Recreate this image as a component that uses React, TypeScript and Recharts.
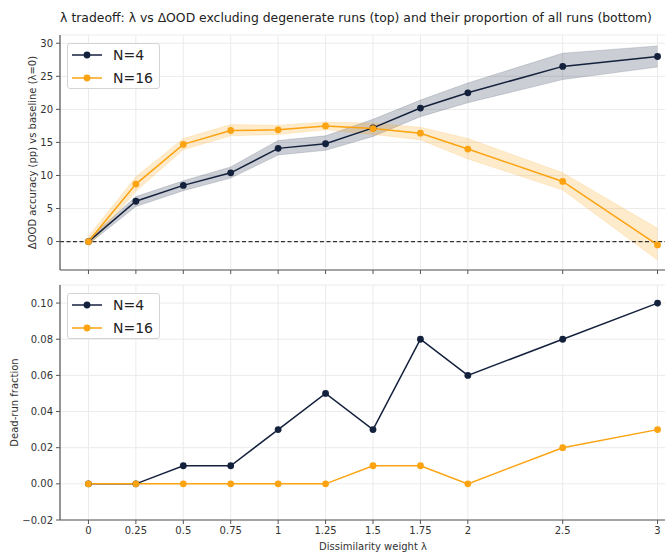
import React from 'react';
import { ComposedChart, Line, Area, XAxis, YAxis, CartesianGrid, ReferenceLine } from 'recharts';

// lambda values (x) and tick labels
const LAMBDAS = [0, 0.25, 0.5, 0.75, 1, 1.25, 1.5, 1.75, 2, 2.5, 3];
const X_TICKS = [0, 0.25, 0.5, 0.75, 1, 1.25, 1.5, 1.75, 2, 2.5, 3];

// top panel: ΔOOD accuracy (pp), mean and band edges
const OOD_N4 = [0, 6.1, 8.5, 10.4, 14.1, 14.8, 17.2, 20.2, 22.5, 26.5, 28.0];
const OOD_N4_LO = [-0.4, 5.3, 7.7, 9.6, 13.1, 13.8, 15.9, 18.9, 21.0, 24.5, 26.4];
const OOD_N4_HI = [0.4, 6.8, 9.2, 11.3, 15.3, 16.0, 18.5, 21.4, 24.0, 28.5, 29.6];
const OOD_N16 = [0, 8.7, 14.7, 16.8, 16.9, 17.5, 17.1, 16.4, 14.0, 9.1, -0.5];
const OOD_N16_LO = [-0.8, 7.6, 13.9, 16.0, 16.2, 16.9, 16.2, 15.4, 12.5, 7.8, -2.8];
const OOD_N16_HI = [0.8, 9.8, 15.6, 17.7, 17.6, 18.1, 17.9, 17.3, 15.6, 10.4, 2.0];
const OOD_TICKS = [0, 5, 10, 15, 20, 25, 30];

// bottom panel: dead-run fraction
const DEAD_N4 = [0, 0, 0.01, 0.01, 0.03, 0.05, 0.03, 0.08, 0.06, 0.08, 0.10];
const DEAD_N16 = [0, 0, 0, 0, 0, 0, 0.01, 0.01, 0, 0.02, 0.03];
const DEAD_TICKS = [-0.02, 0, 0.02, 0.04, 0.06, 0.08, 0.1];

const NAVY = '#14213d';
const ORANGE = '#fca311';
const SPINE = '#555';
const GRID = '#ebebeb';
const FONT = '"DejaVu Sans", sans-serif';

const topData = LAMBDAS.map((lam, i) => ({
  lam,
  n4: OOD_N4[i],
  n4Band: [OOD_N4_LO[i], OOD_N4_HI[i]],
  n16: OOD_N16[i],
  n16Band: [OOD_N16_LO[i], OOD_N16_HI[i]],
}));

const bottomData = LAMBDAS.map((lam, i) => ({ lam, n4: DEAD_N4[i], n16: DEAD_N16[i] }));

const fmtDead = (v: number) => (v < 0 ? '\u2212' + Math.abs(v).toFixed(2) : v.toFixed(2));

const LegendBox = ({ left, top }: { left: number; top: number }) => (
  <div
    style={{
      position: 'absolute',
      left,
      top,
      width: 91,
      height: 44,
      border: '1px solid #d4d4d4',
      borderRadius: 3,
      background: 'rgba(255,255,255,0.85)',
      fontFamily: FONT,
      fontSize: 14,
      color: '#222',
    }}
  >
    {[
      { name: 'N=4', color: NAVY },
      { name: 'N=16', color: ORANGE },
    ].map((s, i) => (
      <div key={s.name} style={{ position: 'absolute', left: 4, top: 0.5 + i * 23.4, height: 20, display: 'flex', alignItems: 'center' }}>
        <svg width={30} height={20}>
          <line x1={0} y1={10} x2={30} y2={10} stroke={s.color} strokeWidth={1.5} />
          <circle cx={15} cy={10} r={3.4} fill={s.color} />
        </svg>
        <span style={{ marginLeft: 11, lineHeight: '20px' }}>{s.name}</span>
      </div>
    ))}
  </div>
);

const axisTick = { fontSize: 10, fill: '#333', fontFamily: FONT };
const X_DOMAIN = [-0.15, 3.15];

export default function App() {
  return (
    <div style={{ position: 'absolute', left: 0, top: 0, width: 665, height: 552, overflow: 'hidden', background: '#fff', fontFamily: FONT }}>
      <div style={{ position: 'absolute', left: 0, top: 10, width: 712, textAlign: 'center', fontSize: 12.4, color: '#222' }}>
        λ tradeoff: λ vs ΔOOD excluding degenerate runs (top) and their proportion of all runs (bottom)
      </div>

      <div style={{ position: 'absolute', left: 0, top: 0 }}>
        <ComposedChart width={692} height={280} data={topData} margin={{ top: 35, right: 6, bottom: 0, left: 0 }}>
          <CartesianGrid stroke={GRID} strokeWidth={1} />
          <XAxis
            dataKey="lam"
            type="number"
            domain={X_DOMAIN}
            ticks={X_TICKS}
            tickFormatter={() => ''}
            height={10}
            tickSize={4}
            stroke={SPINE}
            axisLine={{ stroke: SPINE, strokeWidth: 1.2 }}
            allowDataOverflow
          />
          <XAxis xAxisId="top" orientation="top" dataKey="lam" type="number" domain={X_DOMAIN} height={0} tick={false} tickLine={false} axisLine={{ stroke: SPINE, strokeWidth: 1.2 }} />
          <YAxis
            type="number"
            domain={[-4.3, 31.25]}
            ticks={OOD_TICKS}
            width={60}
            tickSize={4}
            tickMargin={3}
            tick={axisTick}
            stroke={SPINE}
            axisLine={{ stroke: SPINE, strokeWidth: 1.2 }}
            allowDataOverflow
            label={{
              value: 'ΔOOD accuracy (pp) vs baseline (λ=0)',
              angle: -90,
              position: 'insideLeft',
              offset: 32,
              style: { textAnchor: 'middle', fontSize: 10, fill: '#333', fontFamily: FONT },
            }}
          />
          <ReferenceLine y={0} stroke="#333" strokeDasharray="4 2.5" strokeWidth={1.1} />
          <Area type="linear" dataKey="n4Band" stroke={NAVY} strokeOpacity={0.15} fill={NAVY} fillOpacity={0.22} legendType="none" isAnimationActive={false} activeDot={false} dot={false} />
          <Area type="linear" dataKey="n16Band" stroke={ORANGE} strokeOpacity={0.15} fill={ORANGE} fillOpacity={0.22} legendType="none" isAnimationActive={false} activeDot={false} dot={false} />
          <Line type="linear" dataKey="n4" stroke={NAVY} strokeWidth={1.5} dot={{ r: 3.4, fill: NAVY, stroke: 'none' }} isAnimationActive={false} />
          <Line type="linear" dataKey="n16" stroke={ORANGE} strokeWidth={1.5} dot={{ r: 3.4, fill: ORANGE, stroke: 'none' }} isAnimationActive={false} />
        </ComposedChart>
      </div>
      <LegendBox left={67} top={43} />

      <div style={{ position: 'absolute', left: 0, top: 280 }}>
        <ComposedChart width={692} height={272} data={bottomData} margin={{ top: 5, right: 6, bottom: 0, left: 0 }}>
          <CartesianGrid stroke={GRID} strokeWidth={1} />
          <XAxis
            dataKey="lam"
            type="number"
            domain={X_DOMAIN}
            ticks={X_TICKS}
            height={32}
            tickSize={4}
            tickMargin={3}
            tick={axisTick}
            stroke={SPINE}
            axisLine={{ stroke: SPINE, strokeWidth: 1.2 }}
            allowDataOverflow
            label={{
              value: 'Dissimilarity weight λ',
              position: 'insideBottom',
              offset: 0,
              dy: -2,
              style: { fontSize: 10, fill: '#333', fontFamily: FONT },
            }}
          />
          <XAxis xAxisId="top" orientation="top" dataKey="lam" type="number" domain={X_DOMAIN} height={0} tick={false} tickLine={false} axisLine={{ stroke: SPINE, strokeWidth: 1.2 }} />
          <YAxis
            type="number"
            domain={[-0.02, 0.11]}
            ticks={DEAD_TICKS}
            tickFormatter={fmtDead}
            width={60}
            tickSize={4}
            tickMargin={3}
            tick={axisTick}
            stroke={SPINE}
            axisLine={{ stroke: SPINE, strokeWidth: 1.2 }}
            allowDataOverflow
            label={{
              value: 'Dead-run fraction',
              angle: -90,
              position: 'insideLeft',
              offset: 14,
              style: { textAnchor: 'middle', fontSize: 10, fill: '#333', fontFamily: FONT },
            }}
          />
          <Line type="linear" dataKey="n4" stroke={NAVY} strokeWidth={1.5} dot={{ r: 3.4, fill: NAVY, stroke: 'none' }} isAnimationActive={false} />
          <Line type="linear" dataKey="n16" stroke={ORANGE} strokeWidth={1.5} dot={{ r: 3.4, fill: ORANGE, stroke: 'none' }} isAnimationActive={false} />
        </ComposedChart>
      </div>
      <LegendBox left={67} top={293} />
    </div>
  );
}
